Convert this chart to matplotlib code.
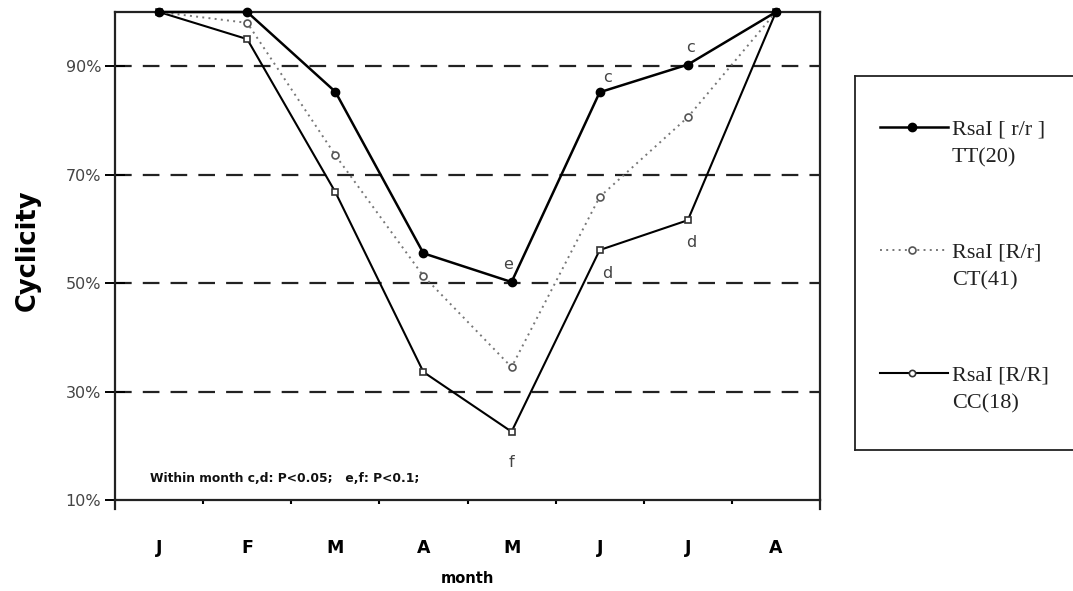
import matplotlib
matplotlib.use("Agg")
import matplotlib.pyplot as plt

months = ["J", "F", "M", "A", "M", "J", "J", "A"]
tt_vals = [100, 100, 85.3, 55.5, 50.2, 85.2, 90.3, 100]
ct_vals = [100, 98.0, 73.6, 51.3, 34.5, 65.9, 80.6, 100]
cc_vals = [100, 95.0, 66.8, 33.6, 22.6, 56.1, 61.6, 100]
yticks = [10, 30, 50, 70, 90]
ytick_labels = ["10%", "30%", "50%", "70%", "90%"]
legend_labels = ["RsaI [ r/r ]\nTT(20)", "RsaI [R/r]\nCT(41)", "RsaI [R/R]\nCC(18)"]
# (series, month index, letter, dx px, dy px)
letters = [("tt", 5, "c", 8, 15), ("tt", 6, "c", 3, 17), ("tt", 4, "e", -4, 18),
           ("cc", 4, "f", 0, -31), ("cc", 5, "d", 8, -23), ("cc", 6, "d", 3, -22)]
note = "Within month c,d: P<0.05;   e,f: P<0.1;"

W, H = 1073, 591
fig = plt.figure(figsize=(W / 100, H / 100), dpi=100)
ax = fig.add_axes([115 / W, 1 - 500 / H, (820 - 115) / W, (500 - 12) / H])

styles = {
    "tt": dict(color="black", lw=1.8, marker="o", ms=6, mfc="black", mec="black"),
    "ct": dict(color="#777777", lw=1.4, ls=(0, (1, 2.2)), marker="o", ms=5,
               mfc="white", mec="#555555", mew=1.2),
    "cc": dict(color="black", lw=1.5, marker="s", ms=4.5, mfc="white", mec="#333333",
               mew=1.2),
}
series = {"tt": tt_vals, "ct": ct_vals, "cc": cc_vals}

x = list(range(len(months)))
for key, z in (("cc", 4), ("ct", 4), ("tt", 5)):
    ax.plot(x, series[key], clip_on=False, zorder=z, **styles[key])

ax.set_xlim(-0.5, len(months) - 0.5)
ax.set_ylim(10, 100)

for yv in yticks[1:]:
    ax.axhline(yv, color="#222222", lw=1.6, ls=(0, (7.5, 5)), zorder=1)

ax.set_yticks(yticks)
ax.set_yticklabels(ytick_labels, fontsize=11.5, color="#444444", family="DejaVu Sans")
ax.tick_params(axis="y", direction="inout", length=14, width=1.4, pad=3)
ax.set_xticks(x)
ax.set_xticklabels(months, fontsize=12.5, fontweight="bold", family="DejaVu Sans")
ax.tick_params(axis="x", which="major", length=0, pad=28)
ax.set_xticks([i + 0.5 for i in x[:-1]], minor=True)
ax.tick_params(axis="x", which="minor", direction="out", length=3, width=1.5)

for s in ax.spines.values():
    s.set_linewidth(1.6)
    s.set_color("#222222")
for xa in (0, 1):
    ax.plot([xa, xa], [0, -0.018], transform=ax.transAxes, color="#222222", lw=1.6,
            clip_on=False)

ax.set_ylabel("Cyclicity", fontsize=18.5, fontweight="bold", family="DejaVu Sans")
ax.yaxis.label.set_va("center")
ax.yaxis.set_label_coords(-87 / 705, (500 - 250) / 488)
ax.set_xlabel("month", fontsize=10.5, fontweight="bold", family="DejaVu Sans", labelpad=10)

for key, i, ch, dx, dy in letters:
    ax.annotate(ch, (i, series[key][i]), xytext=(dx, dy), textcoords="offset pixels",
                ha="center", va="center", fontsize=11.5, color="#444444",
                family="DejaVu Sans")

fig.text(150 / W, 1 - 478 / H, note, fontsize=8.8, fontweight="bold",
         family="DejaVu Sans", va="center", ha="left", color="#111111")

# legend box (drawn in its own axes, pixel-like coordinates)
lx0, lx1, ly0, ly1 = 855, 1090, 76, 450
lax = fig.add_axes([lx0 / W, 1 - ly1 / H, (lx1 - lx0) / W, (ly1 - ly0) / H])
lax.set_xlim(lx0, lx1)
lax.set_ylim(ly1, ly0)
lax.set_xticks([])
lax.set_yticks([])
for s in lax.spines.values():
    s.set_linewidth(1.3)
    s.set_color("#222222")
entry_y = [127, 250, 373]
for key, yy, lab in zip(("tt", "ct", "cc"), entry_y, legend_labels):
    st = styles[key]
    lax.plot([880, 948], [yy, yy], color=st["color"], lw=st["lw"], ls=st.get("ls", "-"))
    lax.plot([912], [yy], ls="none", marker="o", ms=st["ms"], mfc=st["mfc"],
             mec=st["mec"], mew=st.get("mew", 1))
    for k, line in enumerate(lab.split("\n")):
        lax.text(952, yy + 8 + 27 * k, line, va="baseline", ha="left", fontsize=16,
                 family="Liberation Serif", color="#222222")

fig.savefig("out.png", dpi=100)
